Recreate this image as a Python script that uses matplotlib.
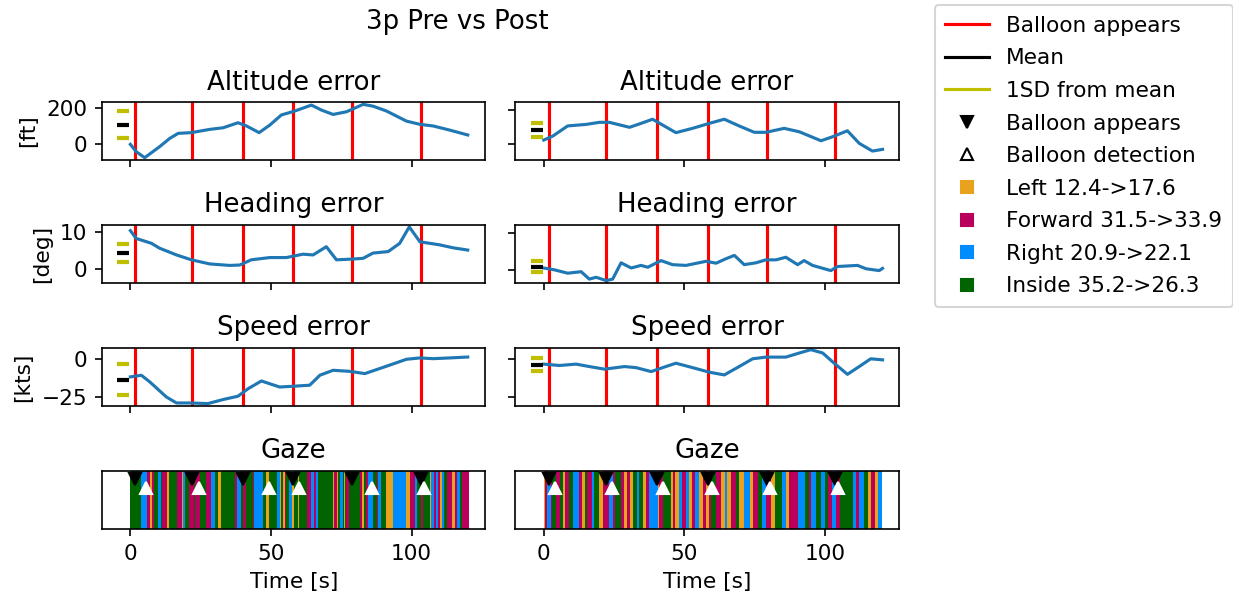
import matplotlib.pyplot as plt
from matplotlib.lines import Line2D

# --- data ---
pre_alt_t = [0, 2.1, 5.1, 10.4, 14, 17, 21.7, 28.2, 33, 38.3, 41.3, 45.8, 49.6, 53.7, 58.5, 64.4, 68, 72.1, 76.9, 82.8, 86.3, 91.1, 98.2, 103, 107.7, 113.6, 120]
pre_alt = [0, -41, -74, -13, 33, 61, 65, 83, 92, 120, 102, 65, 107, 163, 185, 218, 190, 166, 181, 222, 212, 185, 129, 111, 102, 79, 52]
post_alt_t = [0, 3.2, 8.5, 15.1, 19.8, 23.3, 30.5, 34.6, 38.7, 42.3, 47, 52.9, 58.9, 64.2, 69.5, 74.9, 79, 85.5, 90.9, 98.6, 102.7, 108, 112.2, 116.9, 120.5]
post_alt = [25, 48, 107, 116, 128, 128, 99, 122, 146, 112, 68, 93, 122, 146, 107, 70, 70, 93, 73, 21, 44, 79, 6, -39, -29]

pre_head_t = [0, 2.1, 7.5, 10.4, 16.4, 21.7, 28.2, 35.3, 38.9, 43, 49.6, 55.5, 61.4, 65, 69.7, 73.3, 79.2, 82.8, 86.3, 91.7, 95.8, 99.2, 103, 110, 114.8, 120]
pre_head = [10.3, 8.2, 6.9, 5.6, 3.8, 2.5, 1.4, 1.0, 1.1, 2.5, 3.1, 3.1, 4.0, 3.8, 6.0, 2.5, 2.7, 2.9, 4.3, 4.7, 6.9, 11.3, 7.3, 6.5, 5.7, 5.1]
post_head_t = [0, 3.8, 8.5, 13.3, 16.2, 18.6, 22.2, 24.5, 27.5, 31.1, 34.6, 37, 41.7, 45.8, 50.6, 57.7, 61.3, 64.8, 67.8, 71.3, 75.5, 79, 82.6, 86.1, 90.3, 92.6, 95.6, 102.1, 104.5, 111.6, 114.6, 119.3, 120.5]
post_head = [0.5, 0, -0.9, -0.5, -2.5, -2.0, -2.9, -2.5, 1.9, 0.5, 1.2, 0.7, 2.5, 1.4, 1.2, 2.3, 1.8, 3.0, 3.9, 1.4, 1.9, 2.7, 2.7, 3.4, 1.4, 2.5, 1.2, -0.2, 0.9, 1.2, 0.3, -0.2, 0.4]

pre_speed_t = [0, 3.9, 6.9, 12.8, 16.4, 21.1, 27.6, 33, 38.3, 41.9, 46.6, 53.1, 57.9, 63.8, 67.4, 72.1, 78, 83.4, 91.1, 98.2, 103, 107.7, 113.6, 120]
pre_speed = [-11.7, -10.6, -15, -25, -29, -29, -29.4, -26.7, -24.5, -19.5, -14.4, -18.4, -17.9, -17.2, -10.6, -7.3, -8, -9.5, -4.6, 0, 0.9, 0.4, 0.9, 1.5]
post_speed_t = [0, 5.6, 11.5, 16.2, 21.6, 28.7, 32.8, 38.2, 42.3, 47, 52.9, 58.9, 64.2, 69.5, 74.3, 79, 86.1, 90.9, 95, 99.2, 103.3, 108, 112.2, 116.3, 120.5]
post_speed = [-3.5, -4.4, -3.5, -5.1, -6.8, -5.1, -5.8, -8.4, -5.8, -2.9, -5.8, -8.8, -10.6, -5.1, 0, 1.1, 1.1, 3.8, 6, 3.8, -2.9, -10.2, -5.1, 0, -0.7]

# mean and SD for each panel: (mean, sd)
pre_stats = [(109, 76), (4.3, 2.3), (-13.5, 10.2)]
post_stats = [(85, 41), (0.9, 1.6), (-4, 4.2)]

pre_appear = [1.8, 21.8, 40, 57.9, 79, 103.2]
post_appear = [1.8, 22.1, 40.2, 58.4, 79.4, 103.6]
pre_detect = [5.6, 24.3, 49.3, 60, 86, 104.3]
post_detect = [3.9, 24.1, 42.5, 59.7, 80.4, 104.7]

# gaze segments: start times and area code, last entry is the end time
pre_gaze_t = [0.0, 3.7, 5.8, 7.0, 7.6, 8.4, 9.8, 10.8, 11.4, 13.2, 13.9, 16.5, 18.3, 18.7, 19.4, 20.9, 22.6, 23.0,
              24.7, 26.8, 28.6, 30.1, 31.3, 32.1, 37.2, 37.8, 39.3, 40.1, 41.0, 43.6, 44.1, 47.0, 48.2, 49.3, 52.0,
              53.1, 53.6, 54.3, 55.0, 55.5, 56.5, 57.6, 58.2, 59.5, 60.1, 62.9, 64.3, 65.2, 66.1, 66.9, 72.2, 72.6,
              73.5, 74.0, 74.7, 75.7, 75.9, 76.5, 76.7, 77.9, 81.5, 82.4, 83.0, 83.9, 84.4, 86.2, 87.8, 88.2, 89.2,
              91.0, 93.3, 98.1, 99.3, 101.3, 102.0, 103.2, 104.0, 106.4, 107.0, 107.9, 108.8, 109.4, 110.0, 110.8,
              111.4, 112.6, 114.3, 115.3, 116.2, 117.1, 117.9, 120.4]
pre_gaze_c = "GBMOMGBGMOGMOBGMGMGMBGOGMBGMGMBGOGBOGOMGBOGOGMBMBGOMOGBGOGMGMOGMBGMBGOBOMBGMGOBMBMOBGMOMBGM"
post_gaze_t = [0.0, 0.6, 1.1, 2.4, 3.0, 4.2, 5.8, 6.8, 7.7, 8.9, 10.3, 12.7, 13.6, 14.5, 15.3, 17.2, 18.0, 19.8,
               21.2, 23.1, 24.5, 25.5, 27.5, 28.7, 29.5, 30.5, 31.6, 33.1, 34.0, 35.2, 36.4, 37.6, 40.5, 41.1, 42.5,
               45.3, 45.9, 46.8, 48.0, 49.2, 50.6, 51.6, 52.7, 53.9, 55.3, 56.5, 57.7, 58.9, 59.6, 61.4, 62.9, 64.3,
               65.3, 66.7, 68.5, 69.3, 71.2, 73.2, 74.4, 76.2, 77.6, 79.2, 80.9, 82.4, 84.7, 86.3, 87.4, 90.6, 92.8,
               94.2, 95.1, 96.9, 98.5, 99.9, 101.1, 102.5, 104.0, 105.2, 109.9, 111.1, 112.3, 113.9, 115.3, 116.5,
               117.7, 118.8, 120.4]
post_gaze_c = "OMBMGMGOMGBMOGMBGOMBMGMOMOGBGOMBOMGOMOBMBOMBOMOMGMOBOMGOBOMGBMOGBOMBGMBGBGMBMGBMBGOMOB"

areas = {'O': ('Left 12.4->17.6', '#E8A21E'),
         'M': ('Forward 31.5->33.9', '#B8005C'),
         'B': ('Right 20.9->22.1', '#008CFF'),
         'G': ('Inside 35.2->26.3', '#006400')}

plt.rcParams['font.size'] = 10.4

fig, axs = plt.subplots(4, 2, figsize=(1233 / 150, 599 / 150), dpi=150, sharex='col')
fig.subplots_adjust(left=0.0827, right=0.729, top=0.8297, bottom=0.1169, hspace=1.12, wspace=0.078)
fig.suptitle('3p Pre vs Post', x=0.3706, y=0.985)

cols = [
    ([(pre_alt_t, pre_alt), (pre_head_t, pre_head), (pre_speed_t, pre_speed)], pre_stats,
     pre_appear, pre_detect, pre_gaze_t, pre_gaze_c,
     [(-87, 235), (-3.7, 11.8), (-31, 7.5)]),
    ([(post_alt_t, post_alt), (post_head_t, post_head), (post_speed_t, post_speed)], post_stats,
     post_appear, post_detect, post_gaze_t, post_gaze_c,
     [(-91, 246), (-3.55, 12.1), (-31, 7.1)]),
]
titles = ['Altitude error', 'Heading error', 'Speed error']
units = ['[ft]', '[deg]', '[kts]']
yticks = [[0, 200], [0, 10], [-25, 0]]

for j, (series, stats, appear, detect, gt, gc, ylims) in enumerate(cols):
    for i in range(3):
        ax = axs[i, j]
        for a in appear:
            ax.axvline(a, color='r', lw=1.5)
        ax.plot(series[i][0], series[i][1], color='C0', lw=1.5)
        m, sd = stats[i]
        ax.plot([-2.5], [m], marker='_', color='k', ms=5.5, mew=2)
        ax.plot([-2.5, -2.5], [m - sd, m + sd], ls='none', marker='_', color='y', ms=5.5, mew=2)
        ax.set_title(titles[i])
        ax.set_ylim(*ylims[i])
        ax.set_yticks(yticks[i])
        if j == 0:
            ax.set_ylabel(units[i])
        else:
            ax.tick_params(labelleft=False)
    ax = axs[3, j]
    for k, code in enumerate(gc):
        ax.axvspan(gt[k], gt[k + 1], color=areas[code][1], lw=0)
    ax.plot(appear, [0.87] * len(appear), 'v', color='k', ms=6)
    ax.plot(detect, [0.71] * len(detect), '^', color='w', ms=6)
    ax.set_ylim(0, 1)
    ax.set_yticks([])
    ax.set_title('Gaze')
    ax.set_xlabel('Time [s]')
    ax.set_xlim(-10.1, 126.3)
    ax.set_xticks([0, 50, 100])

handles = [Line2D([], [], color='r', lw=1.5, label='Balloon appears'),
           Line2D([], [], color='k', lw=1.5, label='Mean'),
           Line2D([], [], color='y', lw=1.5, label='1SD from mean'),
           Line2D([], [], ls='none', marker='v', color='k', label='Balloon appears'),
           Line2D([], [], ls='none', marker='^', mfc='w', mec='k', label='Balloon detection')]
for code in 'OMBG':
    handles.append(Line2D([], [], ls='none', marker='s', color=areas[code][1], label=areas[code][0]))
fig.legend(handles=handles, loc='upper left', bbox_to_anchor=(0.758, 0.9917), borderaxespad=0,
           labelspacing=0.58, borderpad=0.5)

fig.savefig('out.png', dpi=150)
